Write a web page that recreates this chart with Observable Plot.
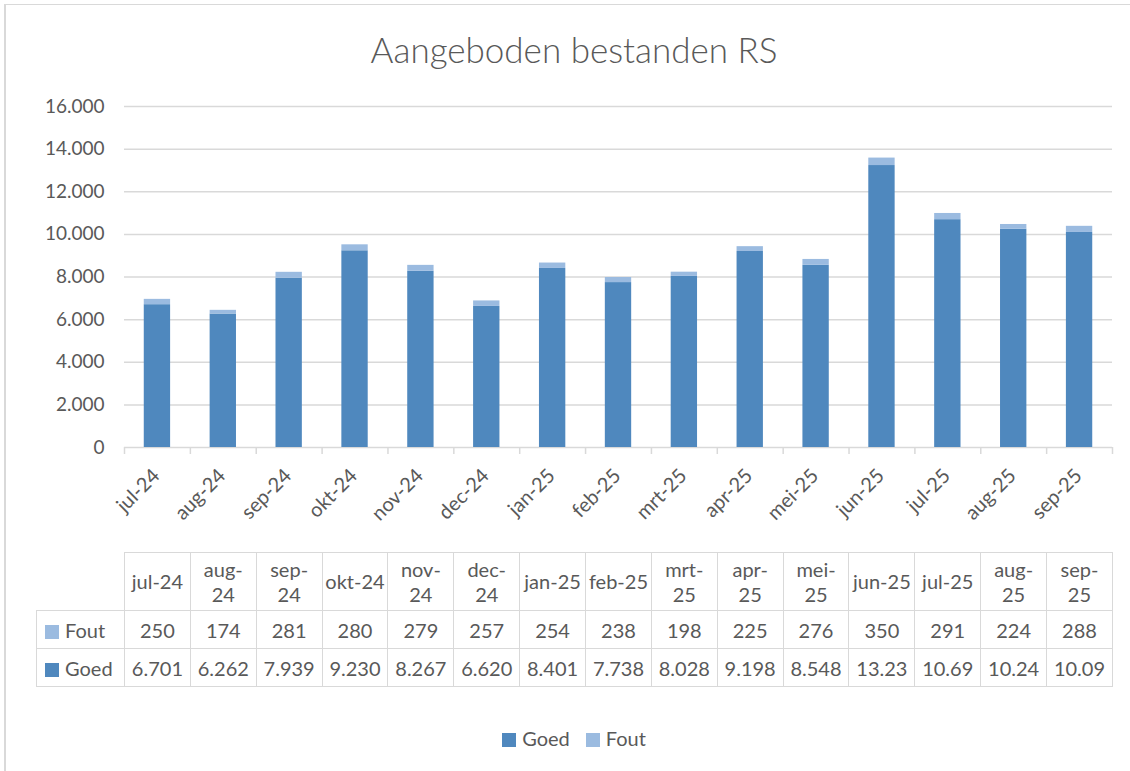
<!DOCTYPE html>
<html>
<head>
<meta charset="utf-8">
<script src="https://cdn.jsdelivr.net/npm/d3@7"></script>
<script src="https://cdn.jsdelivr.net/npm/@observablehq/plot@0.6"></script>
<style>
  html, body { margin: 0; padding: 0; background: #fff; }
  #wrap { position: relative; width: 1130px; height: 771px; overflow: hidden; font-family: Lato, "Open Sans", sans-serif; color: #595959; }
  #frame { position: absolute; left: 4px; top: 4px; width: 1140px; height: 800px; border-top: 1.5px solid #d9d9d9; border-left: 2px solid #d9d9d9; }
  #title { position: absolute; left: 0; width: 1148px; top: 28px; text-align: center; font-size: 35px; font-weight: 300; color: #595959; }
  #chart { position: absolute; left: 0; top: 0; }
  #table { position: absolute; left: 36px; top: 552px; border-collapse: collapse; font-size: 20px; color: #595959; table-layout: fixed; }
  #table td { border: 1.5px solid #d9d9d9; text-align: center; padding: 0; overflow: hidden; white-space: nowrap; }
  #table tr.head td { height: 57px; line-height: 25px; white-space: pre-line; }
  #table tr.head td.corner { border-top: none; border-left: none; }
  #table tr.row td { height: 37px; }
  #table td.lab { text-align: left; padding-left: 8px; }
  .sw { display: inline-block; width: 14px; height: 14px; margin-right: 6px; vertical-align: -1px; }
  #legend { position: absolute; left: 0; width: 1148px; top: 726px; text-align: center; font-size: 20px; }
  #legend span.item { margin: 0 8px; }
</style>
</head>
<body>
<div id="wrap">
  <div id="frame"></div>
  <div id="chart"></div>
  <div id="title">Aangeboden bestanden RS</div>
  <table id="table"></table>
  <div id="legend"></div>
</div>
<script>
const months = ["jul-24","aug-24","sep-24","okt-24","nov-24","dec-24","jan-25","feb-25","mrt-25","apr-25","mei-25","jun-25","jul-25","aug-25","sep-25"];
// table header labels as they are printed (narrow columns wrap some of them)
const tableHeaders = ["jul-24","aug-\n24","sep-\n24","okt-24","nov-\n24","dec-\n24","jan-25","feb-25","mrt-\n25","apr-\n25","mei-\n25","jun-25","jul-25","aug-\n25","sep-\n25"];
const goed = [6701, 6262, 7939, 9230, 8267, 6620, 8401, 7738, 8028, 9198, 8548, 13230, 10690, 10240, 10090];
const fout = [250, 174, 281, 280, 279, 257, 254, 238, 198, 225, 276, 350, 291, 224, 288];
const seriesNames = ["Goed", "Fout"];
const seriesColors = ["#4f88be", "#9bbbe0"];
const yTicks = [0, 2000, 4000, 6000, 8000, 10000, 12000, 14000, 16000];

const nl = d3.formatLocale({decimal: ",", thousands: ".", grouping: [3], currency: ["€", ""]});
const fmt = nl.format(",d");

const data = [];
months.forEach((m, i) => {
  data.push({month: m, series: "Goed", value: goed[i]});
  data.push({month: m, series: "Fout", value: fout[i]});
});

const W = 1130, H = 540;
const mL = 124, mR = 18, mT = 106, mB = 93;
const step = (W - mL - mR) / months.length;
const grid = "#d9d9d9";

const chart = Plot.plot({
  width: W, height: H,
  marginLeft: mL, marginRight: mR, marginTop: mT, marginBottom: mB,
  style: {fontFamily: "Lato, 'Open Sans', sans-serif", color: "#595959", background: "transparent", overflow: "visible"},
  x: {type: "band", domain: months, paddingInner: 0.6, paddingOuter: 0.3, round: false, label: null},
  y: {domain: [0, 16000], label: null},
  color: {domain: seriesNames, range: seriesColors},
  marks: [
    Plot.gridY(yTicks, {stroke: grid, strokeOpacity: 1, strokeWidth: 1.5}),
    Plot.axisY({ticks: yTicks, tickSize: 0, tickPadding: 20, tickFormat: fmt, fontSize: 19, fill: "#595959", label: null}),
    Plot.barY(data, {x: "month", y: "value", fill: "series", order: seriesNames}),
    Plot.axisX({ticks: months, tickSize: 7, stroke: grid, strokeWidth: 1.5, tickFormat: () => "", dx: -step / 2, label: null}),
    Plot.axisX({ticks: [months[months.length - 1]], tickSize: 7, stroke: grid, strokeWidth: 1.5, tickFormat: () => "", dx: step / 2, label: null}),
    Plot.axisX({ticks: months, tickSize: 0, tickRotate: -45, tickPadding: 25, fontSize: 20, fill: "#595959", label: null, dx: -1})
  ]
});
document.getElementById("chart").appendChild(chart);

// data table built from the same arrays
const table = document.getElementById("table");
const colgroup = document.createElement("colgroup");
const c0 = document.createElement("col"); c0.style.width = (mL - 36) + "px"; colgroup.appendChild(c0);
months.forEach(() => { const c = document.createElement("col"); c.style.width = step + "px"; colgroup.appendChild(c); });
table.appendChild(colgroup);
table.style.width = (W - mR - 36) + "px";

const head = document.createElement("tr"); head.className = "head";
const corner = document.createElement("td"); corner.className = "corner"; head.appendChild(corner);
tableHeaders.forEach(m => { const td = document.createElement("td"); td.textContent = m; head.appendChild(td); });
table.appendChild(head);

const clip = s => s.length > 5 ? s.slice(0, 5) : s;
[["Fout", fout, seriesColors[1]], ["Goed", goed, seriesColors[0]]].forEach(([name, vals, col]) => {
  const tr = document.createElement("tr"); tr.className = "row";
  const lab = document.createElement("td"); lab.className = "lab";
  lab.innerHTML = `<span class="sw" style="background:${col}"></span>${name}`;
  tr.appendChild(lab);
  vals.forEach(v => { const td = document.createElement("td"); td.textContent = clip(fmt(v)); tr.appendChild(td); });
  table.appendChild(tr);
});

// legend
const legend = document.getElementById("legend");
seriesNames.forEach((s, i) => {
  const item = document.createElement("span"); item.className = "item";
  item.innerHTML = `<span class="sw" style="background:${seriesColors[i]}"></span>${s}`;
  legend.appendChild(item);
});
</script>
</body>
</html>
